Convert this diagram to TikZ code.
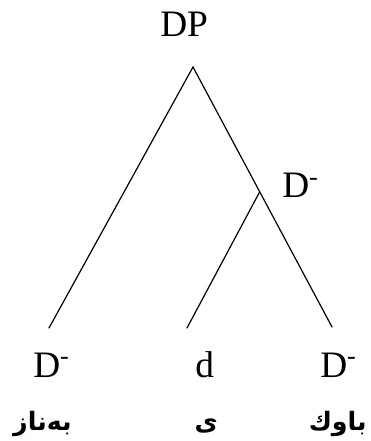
\documentclass[tikz,border=0pt]{standalone}
\usepackage{fontspec}
\setmainfont{Liberation Serif}
\newfontfamily\kurdfont[Script=Arabic]{DejaVu Sans}
\TeXXeTstate=1
\usetikzlibrary{calc}
\tikzset{
  catnode/.style={inner sep=0pt, anchor=base west, font=\fontsize{28}{30}\selectfont},
  wordnode/.style={inner sep=0pt, anchor=base east, font=\kurdfont\bfseries\fontsize{19}{21}\selectfont},
  branch/.style={line width=0.9pt, line cap=round},
}
\begin{document}
\begin{tikzpicture}[x=0.75pt, y=-0.75pt]
  \useasboundingbox (0,0) rectangle (370,441);
  % category labels
  \node[catnode] (dp) at (160,37) {DP};
  \node[catnode] (dbar) at (282,198) {D\textsuperscript{-}};
  \node[catnode] (dleft) at (33,377) {D\textsuperscript{-}};
  \node[catnode] (dmid) at (195,377) {d};
  \node[catnode] (dright) at (320,377) {D\textsuperscript{-}};
  % branches
  \coordinate (top) at (193,67);
  \coordinate (lend) at (49,328);
  \coordinate (mend) at (187,328);
  \coordinate (rend) at (332,327);
  \coordinate (join) at ($(top)!0.48!(rend)$);
  \draw[branch] (lend) -- (top) -- (rend);
  \draw[branch] (join) -- (mend);
  % words
  \node[wordnode] (wleft) at (72,430) {\beginR بەناز\endR};
  \node[wordnode] (wmid) at (218,430) {\beginR ی\endR};
  \node[wordnode] (wright) at (367,430) {\beginR باوك\endR};
\end{tikzpicture}
\end{document}
